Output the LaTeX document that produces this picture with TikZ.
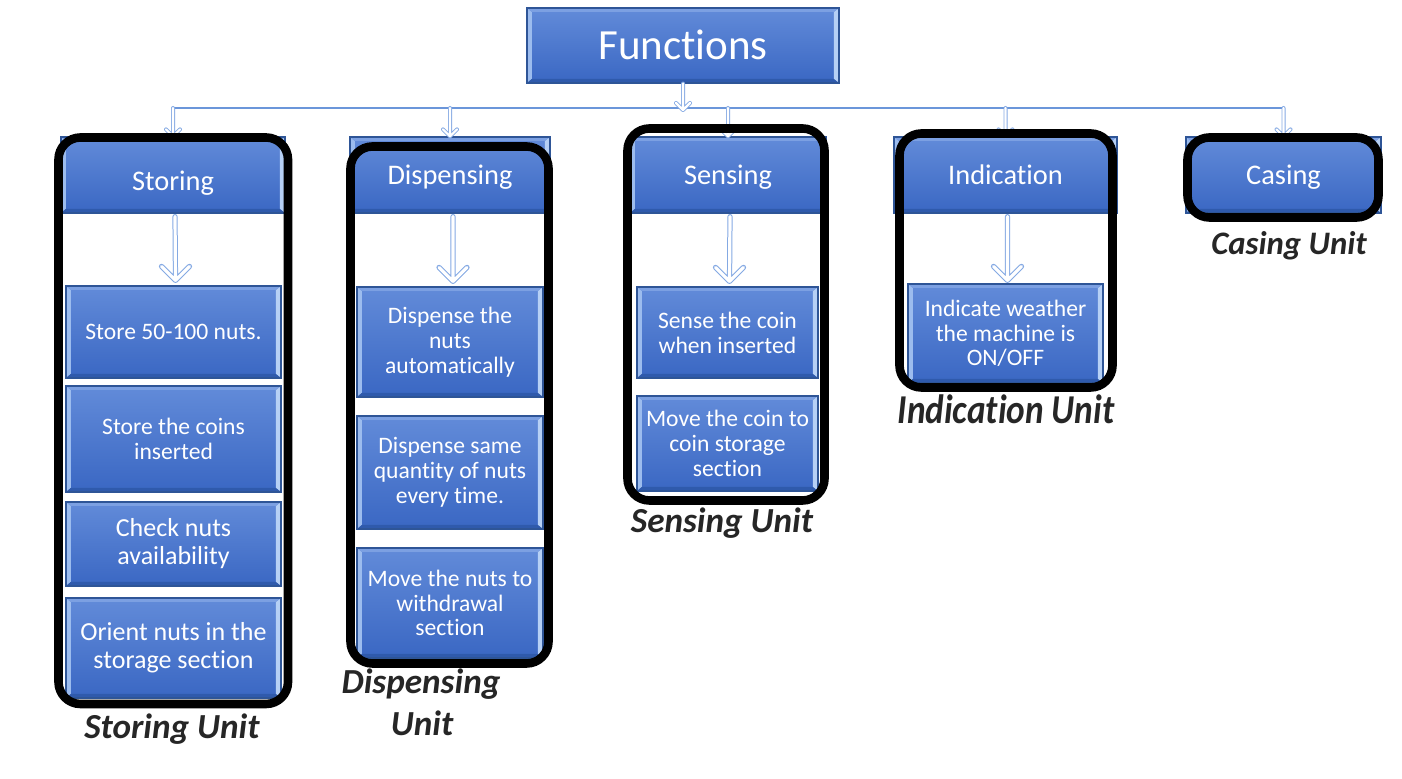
\documentclass[tikz,border=0pt]{standalone}
\usepackage{fontspec}
\setmainfont{Carlito}[Ligatures={NoCommon}]
\usetikzlibrary{calc}

\definecolor{blueTop}{HTML}{628BD9}
\definecolor{blueBot}{HTML}{3A67C3}
\definecolor{boxEdge}{HTML}{2E5597}
\definecolor{bevLeft}{HTML}{9CBCEE}
\definecolor{bevRight}{HTML}{B6D0F5}
\definecolor{bevTop}{HTML}{7CA0E2}
\definecolor{bevBot}{HTML}{2F5AAC}
\definecolor{arrowBlue}{HTML}{84A9E3}
\definecolor{busBlue}{HTML}{6B96DA}
\definecolor{labelGray}{HTML}{262626}

% hollow down-arrow: shaft from #2 to #3, chevron half-size #4
\newcommand\hollowarrow[4]{%
  \draw[#1] #2 -- #3 coordinate (tip) ++(-#4,-#4) -- (tip) -- ++(#4,-#4);}

\begin{document}
\begin{tikzpicture}[x=0.5pt,y=-0.5pt,
  span/.style n args={4}{at={({(#1+#3)/2},{(#2+#4)/2})},
    minimum width={(#3-#1)*0.5pt}, minimum height={(#4-#2)*0.5pt}},
  bluebox/.style={draw=boxEdge, line width=0.6pt, top color=blueTop,
    bottom color=blueBot, text=white, align=center, inner sep=0pt,
    path picture={
      \fill[bevLeft] (path picture bounding box.north west) -- ++(2.4pt,-2pt)
        -- ([shift={(2.4pt,2pt)}]path picture bounding box.south west)
        -- (path picture bounding box.south west) -- cycle;
      \fill[bevRight] (path picture bounding box.north east) -- ++(-2.6pt,-2pt)
        -- ([shift={(-2.6pt,2pt)}]path picture bounding box.south east)
        -- (path picture bounding box.south east) -- cycle;
      \fill[bevTop] (path picture bounding box.north west) -- ++(2.4pt,-2pt)
        -- ([shift={(-2.6pt,-2pt)}]path picture bounding box.north east)
        -- (path picture bounding box.north east) -- cycle;
      \fill[bevBot] (path picture bounding box.south west) -- ++(2.4pt,2pt)
        -- ([shift={(-2.6pt,2pt)}]path picture bounding box.south east)
        -- (path picture bounding box.south east) -- cycle;
    }},
  headbox/.style={bluebox, font=\fontsize{14.2}{16}\selectfont,
    text height=9.2pt, text depth=0pt},
  itembox/.style={bluebox, font=\fontsize{11.8}{12.4}\selectfont},
  itemboxlarge/.style={bluebox, font=\fontsize{13}{14}\selectfont},
  unitframe/.style={draw=black, line width=4.3pt, rounded corners=11pt,
    inner sep=0pt},
  unitlabel/.style={text=labelGray, anchor=base, inner sep=0pt,
    font=\bfseries\itshape\fontsize{17.6}{21}\selectfont},
  hollowthin/.style={draw=arrowBlue, line width=0.45pt, double=white,
    double distance=1.1pt, line join=round, line cap=round},
  hollowbig/.style={draw=arrowBlue, line width=0.5pt, double=white,
    double distance=1.6pt, line join=round, line cap=round},
  busline/.style={draw=busBlue, line width=1pt}
]
\useasboundingbox (0,0) rectangle (1402,779);

% top node
\node[bluebox, span={527}{8}{839}{83}, font=\fontsize{21.5}{24}\selectfont,
  text height=13.8pt, text depth=0pt] (functions) {Functions};

% function headers
\node[headbox, span={61}{137}{285}{213}, text height=15.2pt] (storing) {Storing};
\node[headbox, span={350}{137}{550}{213}] (dispensing) {Dispensing};
\node[headbox, span={630}{137}{826}{213}] (sensing) {Sensing};
\node[headbox, span={894}{137}{1117}{213}] (indication) {Indication};
\node[headbox, span={1186}{137}{1381}{213}] (casing) {Casing};

% storing items
\node[itembox, span={66}{286}{281}{378}] (st1) {Store 50-100 nuts.};
\node[itembox, span={66}{386}{281}{492}] (st2) {Store the coins\\inserted};
\node[itemboxlarge, span={66}{502}{281}{586}] (st3) {Check nuts\\availability};
\node[itemboxlarge, span={66}{598}{281}{698}] (st4) {Orient nuts in the\\storage section};

% dispensing items
\node[itembox, span={357}{287}{543}{397}] (dp1) {Dispense the\\nuts\\automatically};
\node[itembox, span={357}{416}{543}{529}] (dp2) {Dispense same\\quantity of nuts\\every time.};
\node[itembox, span={357}{548}{543}{658}] (dp3) {Move the nuts to\\withdrawal\\section};

% sensing items
\node[itembox, span={637}{287}{818}{378}] (sn1) {Sense the coin\\when inserted};
\node[itembox, span={637}{396}{818}{491}] (sn2) {Move the coin to\\coin storage\\section};

% indication item
\node[itembox, span={908}{284}{1103}{383}] (in1) {Indicate weather\\the machine is\\ON/OFF};

% hierarchy connectors
\coordinate (bus) at (691,108);
\draw[busline] (storing.north |- bus) -- (casing.north |- bus);
\foreach \h in {storing,dispensing,sensing,indication,casing}{
  \hollowarrow{hollowthin}{(\h.north |- bus)}{(\h.north)}{7}
}
\hollowarrow{hollowthin}{(functions.south)}{($(functions.south |- bus)+(0,2)$)}{7}

% header to first item arrows
\hollowarrow{hollowbig}{($(storing.south)+(2,3)$)}{($(st1.north)+(2,-5)$)}{14}
\hollowarrow{hollowbig}{($(dispensing.south)+(3,3)$)}{($(dp1.north)+(3,-5)$)}{14}
\hollowarrow{hollowbig}{($(sensing.south)+(2,3)$)}{($(sn1.north)+(2,-5)$)}{14}
\hollowarrow{hollowbig}{($(indication.south)+(2,3)$)}{($(in1.north)+(2,-3)$)}{14}

% unit frames
\node[unitframe, span={58.5}{137.5}{288}{704}] (storingframe) {};
\node[unitframe, span={350.5}{146.5}{548.5}{663.5}] (dispensingframe) {};
\node[unitframe, span={627.5}{128.5}{824.5}{500.5}] (sensingframe) {};
\node[unitframe, span={899.5}{133.5}{1112.5}{387.5}] (indicationframe) {};
\node[unitframe, span={1187.5}{137.5}{1378.5}{217.5}] (casingframe) {};

% unit labels
\node[unitlabel] (storinglabel) at (172,738) {Storing Unit};
\node[unitlabel] (dispensinglabelA) at (421,693) {Dispensing};
\node[unitlabel] (dispensinglabelB) at (422,735) {Unit};
\node[unitlabel] (sensinglabel) at (722,533) {Sensing Unit};
\node[unitlabel, font=\bfseries\itshape\fontsize{20.5}{24}\selectfont, xscale=0.86]
  (indicationlabel) at (1006,424) {Indication Unit};
\node[unitlabel, font=\bfseries\itshape\fontsize{16.4}{19}\selectfont]
  (casinglabel) at (1289,255) {Casing Unit};
\end{tikzpicture}
\end{document}
